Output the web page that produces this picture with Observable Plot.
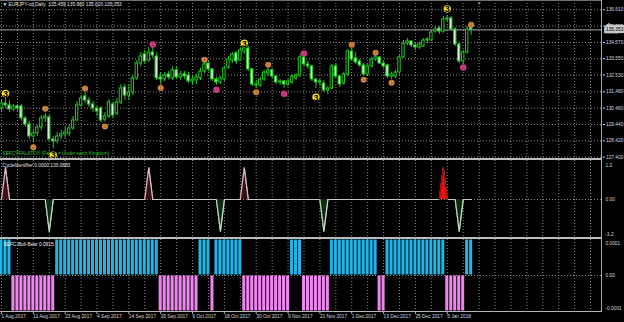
<!DOCTYPE html>
<html><head><meta charset="utf-8">
<script src="https://cdn.jsdelivr.net/npm/d3@7"></script>
<script src="https://cdn.jsdelivr.net/npm/@observablehq/plot@0.6"></script>
<style>
html,body{margin:0;padding:0;background:#000;}
#chart{position:relative;width:624px;height:322px;overflow:hidden;background:#000;}
#chart svg{position:absolute;left:0;}
.sep{position:absolute;}
</style></head><body><div id="chart"></div>
<script>
// ---------- texts ----------
const symbolTitle = "\u25BC EURJPY-cd,Daily  135.459 135.660 135.020 135.353";
const signature = "SEFC\u00AEFALATO\u00AE (Falato = Under earth Kingdom)";
const cycleTitle = "CycleIdentifier 0.0000 133.0883";
const bbTitle = "SEFC-Bull-Bear 0.0915";

// ---------- daily candles (bar 0 = 1 Aug 2017) ----------
const open = [130.44,130.75,130.63,130.38,130.57,130.57,129.82,129.44,128.69,128.88,
 129.25,129.82,129.88,128.50,128.38,128.69,128.82,128.88,129.19,129.69,
 130.63,131.19,130.94,130.69,130.44,130.44,129.75,129.94,130.69,130.13,
 130.82,131.75,131.25,131.44,132.32,133.25,133.82,133.44,133.94,133.69,
 132.38,132.25,132.57,132.32,132.82,132.38,132.57,132.50,132.13,132.19,
 132.32,132.75,133.25,132.88,132.25,132.07,132.25,133.00,133.44,133.88,
 133.44,134.00,134.19,132.88,131.94,131.88,132.25,132.63,132.82,132.44,
 132.07,132.13,131.94,132.07,132.32,132.50,133.63,133.19,133.07,132.25,
 132.07,132.00,131.57,131.69,133.07,132.44,132.00,132.57,134.00,133.57,
 133.38,133.13,132.57,133.07,133.50,133.63,133.25,133.13,132.44,132.44,
 132.69,133.63,134.50,134.63,134.38,134.25,134.32,134.69,134.69,135.25,
 135.44,135.25,136.00,136.07,135.38,134.44,133.38,133.94,135.459];
const high = [130.94,131.19,130.94,130.69,130.69,130.69,129.94,129.63,129.07,129.38,
 130.00,130.13,130.00,128.69,128.94,129.07,129.25,129.38,129.94,130.88,
 131.25,131.44,131.13,130.88,130.57,130.57,130.19,131.00,130.82,131.07,
 131.94,131.94,131.88,132.50,133.44,133.94,134.07,134.25,134.25,133.94,
 132.69,132.69,132.75,133.07,133.00,132.75,132.75,132.69,132.44,132.57,
 132.94,133.38,133.38,132.94,132.38,132.44,133.07,133.69,133.94,134.00,
 134.25,134.32,134.32,132.94,132.19,132.38,132.82,132.94,132.94,132.50,
 132.25,132.19,132.25,132.57,132.63,133.82,133.75,133.38,133.13,132.32,
 132.25,132.19,131.82,133.19,133.19,132.50,132.69,134.13,134.19,133.94,
 133.50,133.25,133.19,133.63,133.75,133.69,133.38,133.19,132.69,132.82,
 133.75,134.69,134.82,134.69,134.50,134.57,134.82,134.88,135.32,135.57,
 135.57,136.19,136.25,136.19,135.50,134.57,134.07,135.57,135.660];
const low = [130.25,130.44,130.19,130.25,130.19,129.63,129.25,128.50,128.32,128.69,
 129.07,129.57,128.44,127.94,128.25,128.50,128.57,128.69,129.07,129.63,
 130.50,130.75,130.50,130.19,129.94,129.57,129.57,129.82,129.82,130.00,
 130.69,130.94,130.94,131.25,132.19,133.07,133.19,133.32,133.57,132.19,
 131.94,132.13,132.25,132.19,132.25,132.19,132.25,132.00,131.94,131.94,
 132.19,132.63,132.75,132.13,131.88,131.94,132.13,132.88,133.25,133.19,
 133.38,133.82,132.75,131.82,131.69,131.75,132.13,132.44,132.32,131.94,
 131.88,131.69,131.82,131.94,132.19,132.38,133.07,132.88,132.13,131.69,
 131.82,131.44,131.32,131.63,132.32,131.75,131.88,132.44,133.38,133.19,
 133.00,132.44,132.44,133.00,133.38,133.19,132.94,132.32,132.25,132.32,
 132.57,133.57,134.38,134.25,134.07,134.13,134.25,134.50,134.63,135.13,
 135.07,135.13,135.82,135.25,134.32,133.25,133.19,133.82,135.020];
const close = [130.75,130.63,130.38,130.57,130.44,129.82,129.44,128.69,128.88,129.25,
 129.82,129.94,128.50,128.38,128.69,128.82,128.94,129.19,129.69,130.63,
 131.07,130.94,130.69,130.44,130.25,129.69,129.94,130.82,130.00,130.82,
 131.69,131.25,131.44,132.32,133.25,133.69,133.38,133.94,133.75,132.32,
 132.25,132.50,132.38,132.82,132.38,132.57,132.44,132.13,132.25,132.38,
 132.75,133.19,132.88,132.25,132.07,132.32,132.94,133.50,133.82,133.38,
 134.07,134.19,132.88,131.94,131.88,132.25,132.69,132.82,132.44,132.07,
 132.13,131.94,132.13,132.44,132.50,133.63,133.19,133.07,132.25,132.07,
 132.13,131.57,131.69,133.07,132.44,131.94,132.57,134.00,133.50,133.32,
 133.13,132.57,133.07,133.50,133.63,133.25,133.07,132.44,132.57,132.69,
 133.63,134.50,134.63,134.38,134.25,134.44,134.69,134.75,135.19,135.38,
 135.25,136.00,136.07,135.38,134.44,133.38,133.94,135.38,135.353];

const currentPrice = 135.353;
const priceTicks  = [136.61, 135.59, 134.57, 133.55, 132.53, 131.48, 130.46, 129.44, 128.42, 127.40];
const priceLabels = ["136.610","135.590","134.570","133.550","132.530","131.480","130.460","129.440","128.420","127.400"];

// swing markers: 1 = orange, 2 = pink, 3 = yellow "3"
const markerBar   = [1, 8, 11, 13, 21, 26, 38, 40, 51, 54, 61, 64, 67, 71, 76, 79, 88, 91, 94, 98, 112, 116, 118];
const markerPrice = [131.38, 128.02, 130.42, 127.53, 131.69, 129.32, 134.44, 131.72, 133.48, 131.61, 134.52, 131.46,
                     133.17, 131.36, 133.88, 131.15, 134.42, 132.23, 133.92, 132.05, 136.67, 133.00, 135.67];
const markerType  = [3, 1, 1, 3, 1, 1, 2, 1, 1, 2, 3, 1, 1, 2, 2, 3, 1, 1, 1, 1, 3, 2, 1];

// CycleIdentifier values per bar
const cycle = [0,1,0,0,0,0,0,0,0,0, 0,0,-1,0,0,0,0,0,0,0, 0,0,0,0,0,0,0,0,0,0,
 0,0,0,0,0,0,0,1,0,0, 0,0,0,0,0,0,0,0,0,0, 0,0,0,0,0,-1,0,0,0,0,
 0,1,0,0,0,0,0,0,0,0, 0,0,0,0,0,0,0,0,0,0, 0,-1,0,0,0,0,0,0,0,0,
 0,0,0,0,0,0,0,0,0,0, 0,0,0,0,0,0,0,0,0,0, 0,1,0,0,0,-1,0,0,0];
const cycleMajor = [111];
const cycleTicks = [1.2, 0, -1.2];
const cycleLabels = ["1.2", "0.00", "-1.2"];

// Bull / Bear histogram per bar (+1 bull, -1 bear), in units of 0.0001
const bullBear = [1,1,1,-1,-1,-1,-1,-1,-1,-1, -1,-1,-1,-1,1,1,1,1,1,1,
 1,1,1,1,1,1,1,1,1,1, 1,1,1,1,1,1,1,1,1,1,
 -1,-1,-1,-1,-1,-1,-1,-1,-1,-1, 1,1,1,-1,1,1,1,1,1,1,
 1,-1,-1,-1,-1,-1,-1,-1,-1,-1, -1,-1,-1,1,1,1,-1,-1,-1,-1,
 -1,-1,-1,1,1,1,1,1,1,1, 1,1,1,1,1,-1,-1,1,1,1,
 1,1,1,1,1,1,1,1,1,1, 1,1,-1,-1,-1,-1,-1,1,1];
const bbUnit = 0.0001;
const bbTicks = [0.0001, 0, -0.0001];
const bbLabels = ["0.0001", "0.00", "-0.0001"];

// time axis
const dateTickBars = [0, 8, 16, 24, 32, 40, 48, 56, 64, 72, 80, 88, 96, 104, 112];
const dateLabels = ["1 Aug 2017","11 Aug 2017","23 Aug 2017","4 Sep 2017","14 Sep 2017","26 Sep 2017",
  "6 Oct 2017","18 Oct 2017","30 Oct 2017","9 Nov 2017","21 Nov 2017","1 Dec 2017","13 Dec 2017",
  "25 Dec 2017","5 Jan 2018"];
const gridBars = d3.range(0, 149, 4);
const shiftBar = [120];

// ---------- styling ----------
const FONT = "'Liberation Sans', Arial, sans-serif";
const FS = 4.8;
const GREEN = "#22c822";
const PALE = "#d4f5d4";
const GRID = "#8a8a8a";
const TXT = "#d8d8d8";
const markerFill = {1: "#d2873c", 2: "#d43d88", 3: "#ffe41c"};
const markerDigit = {1: "#8e5a26", 2: "#8a2456"};
const xScale = {domain: [-0.25, 151], axis: null};
const baseStyle = {background: "transparent", color: TXT, fontFamily: FONT, fontSize: FS + "px", overflow: "visible"};
const gridOpts = {stroke: GRID, strokeOpacity: 1, strokeDasharray: "1,2"};

const candles = open.map((o, i) => ({i, open: o, high: high[i], low: low[i], close: close[i]}));
const markers = markerBar.map((b, k) => ({i: b, price: markerPrice[k], type: markerType[k]}));

const chart = document.getElementById("chart");
function place(svg, top) { svg.style.top = top + "px"; chart.appendChild(svg); }

// right-hand value labels of an indicator panel (top label pushed down, bottom one pushed up)
function sideLabels(ticks, labels) {
  const rows = ticks.map((t, k) => ({t, label: labels[k], k}));
  return [
    Plot.text(rows.filter(r => r.k === 0), {y: "t", text: "label", frameAnchor: "right", textAnchor: "start", dx: 3, dy: 3.5, fill: TXT, fontSize: FS}),
    Plot.text(rows.filter(r => r.k === 1), {y: "t", text: "label", frameAnchor: "right", textAnchor: "start", dx: 3, fill: TXT, fontSize: FS}),
    Plot.text(rows.filter(r => r.k === 2), {y: "t", text: "label", frameAnchor: "right", textAnchor: "start", dx: 3, dy: -3, fill: TXT, fontSize: FS})
  ];
}

// ---------- main price panel ----------
const main = Plot.plot({
  width: 624, height: 159, marginLeft: 0, marginRight: 22, marginTop: 0, marginBottom: 0,
  x: xScale,
  y: {domain: [127.25, 137.19], axis: null},
  style: baseStyle,
  marks: [
    Plot.gridY(priceTicks, gridOpts),
    Plot.gridX(gridBars, gridOpts),
    Plot.ruleY([currentPrice], {stroke: "#a8a8a8", strokeWidth: 1}),
    Plot.ruleX(candles, {x: "i", y1: "low", y2: "high", stroke: GREEN, strokeWidth: 1}),
    Plot.rect(candles, {x1: d => d.i - 0.3, x2: d => d.i + 0.3, y1: "open", y2: "close",
      fill: d => d.close >= d.open ? "#000" : PALE, stroke: GREEN, strokeWidth: 1}),
    Plot.text([symbolTitle], {text: d => d, frameAnchor: "top-left", dx: 2, dy: 2, lineAnchor: "top", fill: "#e6e6e6", fontSize: FS}),
    Plot.text([signature], {text: d => d, frameAnchor: "bottom-left", dx: 2, dy: -5, lineAnchor: "bottom", fill: "#34c234", fontSize: FS}),
    Plot.text(shiftBar, {x: d => d, frameAnchor: "top", text: () => "\u25BC", fill: "#8c8c8c", fontSize: 5, lineAnchor: "top", dy: 0.5}),
    Plot.dot(markers, {x: "i", y: "price", r: d => d.type === 3 ? 5.6 : (d.type === 2 ? 4.2 : 3.8),
      fill: d => markerFill[d.type], stroke: "none"}),
    Plot.text(markers.filter(d => d.type === 3), {x: "i", y: "price", text: () => "3", fill: "#000",
      fontWeight: "bold", fontSize: 9, dy: 0.5}),
    Plot.text(markers.filter(d => d.type !== 3), {x: "i", y: "price", text: d => String(d.type),
      fill: d => markerDigit[d.type], fontSize: 5}),
    Plot.axisY(priceTicks, {anchor: "right", tickFormat: d => priceLabels[priceTicks.indexOf(d)],
      tickSize: 2, tickPadding: 1.5, fontSize: FS, stroke: TXT, fill: TXT}),
    Plot.text([currentPrice], {y: d => d, frameAnchor: "right", textAnchor: "start", dx: 3.5,
      text: d => d.toFixed(3), fill: "#000", stroke: "#c8c8c8", strokeWidth: 4.5, strokeLinejoin: "miter",
      paintOrder: "stroke", fontSize: FS})
  ]
});
place(main, 0);

// ---------- CycleIdentifier panel ----------
const spikes = [];
cycle.forEach((v, i) => {
  if (v !== 0) {
    const kind = cycleMajor.includes(i) ? "major" : (v > 0 ? "up" : "down");
    spikes.push({x: i - 1, v: 0, k: i, kind}, {x: i, v, k: i, kind}, {x: i + 1, v: 0, k: i, kind});
  }
});
const spikeFill = {up: "#3a0e12", down: "#0e2a10", major: "#e81212"};
const spikeStroke = {up: "#dcb6c0", down: "#bcdcbc", major: "#a00000"};
const cyc = Plot.plot({
  width: 624, height: 78, marginLeft: 0, marginRight: 22, marginTop: 0, marginBottom: 0,
  x: xScale,
  y: {domain: [-1.232, 1.232], axis: null},
  style: baseStyle,
  marks: [
    Plot.gridX(gridBars, gridOpts),
    Plot.gridY([0], gridOpts),
    Plot.line(cycle, {x: (d, i) => i, y: d => d, stroke: "#c6c6c6", strokeWidth: 1.2}),
    Plot.areaY(spikes, {x: "x", y: "v", z: "k", fill: d => spikeFill[d.kind], fillOpacity: 1}),
    Plot.line(spikes, {x: "x", y: "v", z: "k", stroke: d => spikeStroke[d.kind], strokeWidth: 1.2}),
    Plot.text([cycleTitle], {text: d => d, frameAnchor: "top-left", dx: 2, dy: 3, lineAnchor: "top", fill: "#e6e6e6", fontSize: FS}),
    ...sideLabels(cycleTicks, cycleLabels)
  ]
});
place(cyc, 160);

// ---------- Bull/Bear panel + time axis ----------
const bb = bullBear.map((v, i) => ({i, v: v * bbUnit}));
const bbPlot = Plot.plot({
  width: 624, height: 83, marginLeft: 0, marginRight: 22, marginTop: 0, marginBottom: 11,
  x: xScale,
  y: {domain: [-0.0001, 0.0001], axis: null},
  style: baseStyle,
  marks: [
    Plot.gridX(gridBars, gridOpts),
    Plot.gridY([0], gridOpts),
    Plot.rect(bb, {x1: d => d.i - 0.38, x2: d => d.i + 0.38, y1: 0, y2: "v",
      fill: d => d.v > 0 ? "#21b4e6" : "#ee84ee", insetTop: 0.5, insetBottom: 0.5}),
    Plot.text([bbTitle], {text: d => d, frameAnchor: "top-left", dx: 3, dy: 3, lineAnchor: "top", fill: "#f0f0f0", fontSize: FS}),
    ...sideLabels(bbTicks, bbLabels),
    Plot.axisX(dateTickBars, {anchor: "bottom", tickFormat: d => dateLabels[dateTickBars.indexOf(d)],
      tickSize: 3, tickPadding: 0.5, textAnchor: "start", dx: 0, fontSize: FS, fill: TXT, stroke: "#b0b0b0"})
  ]
});
place(bbPlot, 239);

// ---------- panel separators and frame ----------
function sep(left, top, w, h, color) {
  const d = document.createElement("div");
  d.className = "sep";
  Object.assign(d.style, {left: left + "px", top: top + "px", width: w + "px", height: h + "px", background: color});
  chart.appendChild(d);
}
sep(0, 0, 602, 1, "#6e6e6e");
sep(0, 158, 602, 2, "#bcbcbc");
sep(0, 237, 602, 2, "#bcbcbc");
sep(0, 311, 602, 1, "#b4b4b4");
sep(601, 0, 1, 312, "#a8a8a8");
</script></body></html>
